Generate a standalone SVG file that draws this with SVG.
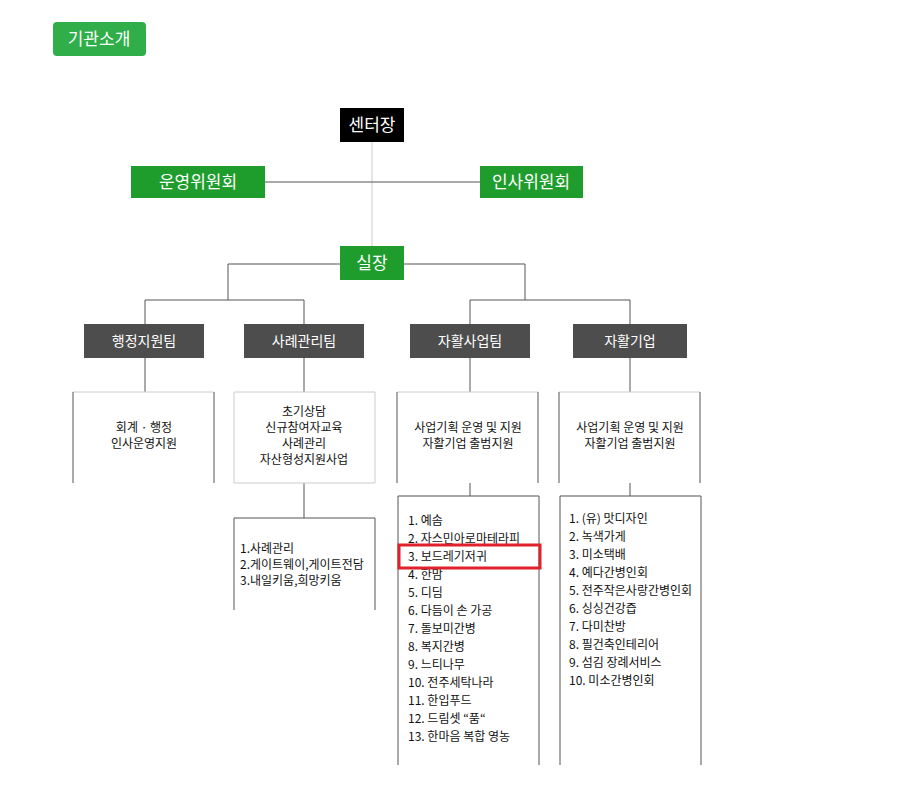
<svg xmlns="http://www.w3.org/2000/svg" width="913" height="810" viewBox="0 0 913 810">
<style>
text{font-family:"Noto Sans CJK KR","Noto Sans",sans-serif;}
.g{fill:#1e9c2c}.w{fill:#fff;font-size:17px;text-anchor:middle}
.t{fill:#4d4d4d}.tw{fill:#fff;font-size:14px;text-anchor:middle}
.ln{stroke:#555;stroke-width:1;fill:none}
.lt{stroke:#ccc;stroke-width:1;fill:none}
.bx{fill:#fff;stroke:#555}
.s{font-size:12px;fill:#111}
.c{text-anchor:middle}
</style>
<rect width="913" height="810" fill="#fff"/>
<g id="title"><rect x="53" y="22" width="93" height="34" rx="4" fill="#2fae4a"/><text x="99" y="45" class="w">기관소개</text></g>
<g id="connectors">
<path class="lt" d="M372 142V246"/>
<path class="ln" d="M265 182H480"/>
<path class="ln" d="M228 300V264H525V300M145 325V300H304V325M470 325V300H630V325"/>
<path class="ln" d="M145 358V392M304 358V392M470 358V392M630 358V392M304 483V518M470 483V496M630 483V496"/>
</g>
<g id="center"><rect x="340" y="108" width="64" height="34" fill="#000"/><text x="372" y="131" class="w">센터장</text></g>
<g id="op"><rect x="131" y="166" width="134" height="32" class="g"/><text x="198" y="188" class="w">운영위원회</text></g>
<g id="hr"><rect x="480" y="166" width="103" height="32" class="g"/><text x="531" y="188" class="w">인사위원회</text></g>
<g id="chief"><rect x="340" y="246" width="64" height="34" class="g"/><text x="372" y="269" class="w">실장</text></g>
<g id="t1"><rect x="84" y="324" width="120" height="34" class="t"/><text x="144" y="346" class="tw">행정지원팀</text></g>
<g id="t2"><rect x="244" y="324" width="120" height="34" class="t"/><text x="304" y="346" class="tw">사례관리팀</text></g>
<g id="t3"><rect x="410" y="324" width="120" height="34" class="t"/><text x="470" y="346" class="tw">자활사업팀</text></g>
<g id="t4"><rect x="573" y="324" width="114" height="34" class="t"/><text x="630" y="346" class="tw">자활기업</text></g>
<g id="b1"><path class="lt" d="M73 392H214"/><path class="ln" d="M73 392V483M214 392V483"/><text class="s c" x="144" y="432">회계  · 행정</text><text class="s c" x="144" y="448">인사운영지원</text></g>
<g id="b2"><path class="lt" d="M234 392H375V483H234Z"/><text class="s c" x="304" y="416">초기상담</text><text class="s c" x="304" y="432">신규참여자교육</text><text class="s c" x="304" y="448">사례관리</text><text class="s c" x="304" y="464">자산형성지원사업</text></g>
<g id="b3"><path class="lt" d="M397 392H538"/><path class="ln" d="M397 392V483M538 392V483"/><text class="s c" x="468" y="432">사업기획 운영 및 지원</text><text class="s c" x="468" y="448">자활기업 출범지원</text></g>
<g id="b4"><path class="lt" d="M559 392H700"/><path class="ln" d="M559 392V483M700 392V483"/><text class="s c" x="630" y="432">사업기획 운영 및 지원</text><text class="s c" x="630" y="448">자활기업 출범지원</text></g>
<g id="b5"><path class="ln" d="M234 610V518H375V610"/><text class="s" x="240" y="553">1.사례관리</text><text class="s" x="240" y="569">2.게이트웨이,게이트전담</text><text class="s" x="240" y="585">3.내일키움,희망키움</text></g>
<g id="b6"><path class="ln" d="M398 765V496H539V765"/>
<g class="s"><text x="408" y="525">1. 예솜</text><text x="408" y="543">2. 자스민아로마테라피</text><text x="408" y="561">3. 보드레기저귀</text><text x="408" y="579">4. 한맘</text><text x="408" y="597">5. 디딤</text><text x="408" y="615">6. 다듬이 손 가공</text><text x="408" y="633">7. 돌보미간병</text><text x="408" y="651">8. 복지간병</text><text x="408" y="669">9. 느티나무</text><text x="408" y="687">10. 전주세탁나라</text><text x="408" y="705">11. 한입푸드</text><text x="408" y="723">12. 드림셋 “품“</text><text x="408" y="741">13. 한마음 복합 영농</text></g>
<rect x="399" y="545" width="141" height="23" fill="none" stroke="#e0202a" stroke-width="3"/></g>
<g id="b7"><path class="ln" d="M560 765V496H701V765"/>
<g class="s"><text x="569" y="523">1. (유) 맛디자인</text><text x="569" y="541">2. 녹색가게</text><text x="569" y="559">3. 미소택배</text><text x="569" y="577">4. 예다간병인회</text><text x="569" y="595">5. 전주작은사랑간병인회</text><text x="569" y="613">6. 싱싱건강즙</text><text x="569" y="631">7. 다미찬방</text><text x="569" y="649">8. 필건축인테리어</text><text x="569" y="667">9. 섬김 장례서비스</text><text x="569" y="685">10. 미소간병인회</text></g></g>
</svg>
